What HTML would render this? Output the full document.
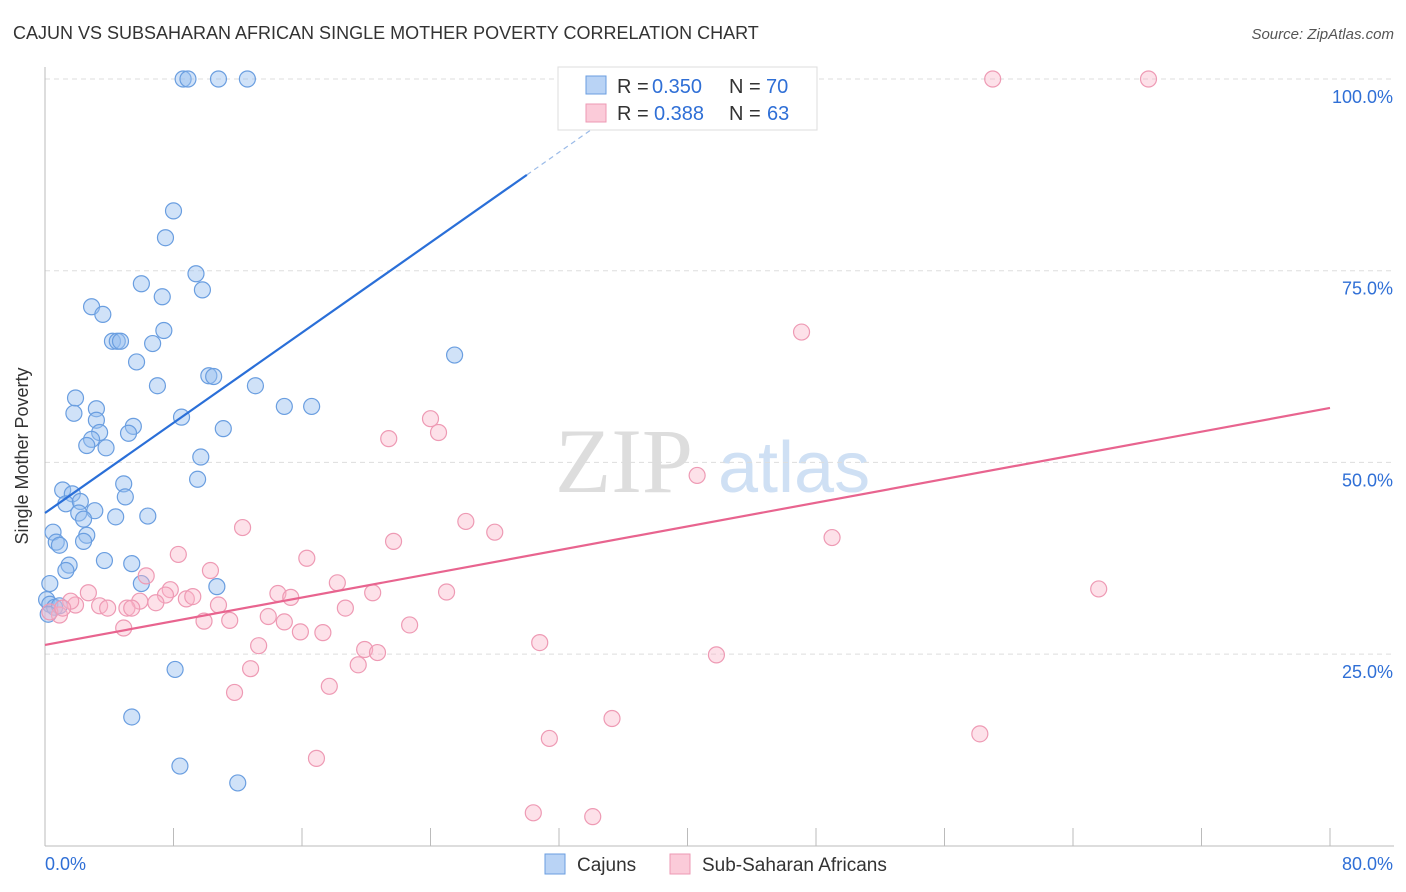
<!DOCTYPE html>
<html><head><meta charset="utf-8"><style>
body{margin:0;background:#fff;font-family:"Liberation Sans",sans-serif;}
svg{display:block}
</style></head><body>
<svg id="chart" width="1406" height="892">
<text x="13" y="39" font-size="18" fill="#333">CAJUN VS SUBSAHARAN AFRICAN SINGLE MOTHER POVERTY CORRELATION CHART</text>
<text x="1394" y="39" font-size="15" fill="#555" font-style="italic" text-anchor="end">Source: ZipAtlas.com</text>
<text x="28" y="456" font-size="18" fill="#333" text-anchor="middle" transform="rotate(-90 28 456)">Single Mother Poverty</text>
<text x="555" y="492" font-size="92" fill="#ddd" font-family="Liberation Serif,serif">ZIP</text>
<text x="718" y="492" font-size="72" fill="#cfe0f4">atlas</text>
<g id="grid"></g><g id="axes"></g><g id="pts"></g><g id="lines"></g>
<g>
<rect x="558" y="67" width="259" height="63" fill="#fff" stroke="#ddd"/>
<rect x="586" y="76" width="20" height="18" fill="#b9d3f5" stroke="#6a9ee0"/>
<rect x="586" y="104" width="20" height="18" fill="#fbcbd9" stroke="#ee9ab4"/>
<text y="93" font-size="20" fill="#333"><tspan x="617">R =</tspan><tspan x="652" fill="#2f6fd6">0.350</tspan><tspan x="729">N =</tspan><tspan x="766" fill="#2f6fd6">70</tspan></text>
<text y="120" font-size="20" fill="#333"><tspan x="617">R =</tspan><tspan x="654" fill="#2f6fd6">0.388</tspan><tspan x="729">N =</tspan><tspan x="767" fill="#2f6fd6">63</tspan></text>
</g>
<g>
<rect x="545" y="854" width="20" height="20" fill="#b9d3f5" stroke="#6a9ee0"/>
<text x="577" y="871" font-size="19" fill="#333">Cajuns</text>
<rect x="670" y="854" width="20" height="20" fill="#fbcbd9" stroke="#ee9ab4"/>
<text x="702" y="871" font-size="19" fill="#333">Sub-Saharan Africans</text>
</g>
</svg>
<script>
const yTicks=[25,50,75,100];
const yTickLabels=["25.0%","50.0%","75.0%","100.0%"];
const xTickVals=[0,8,16,24,32,40,48,56,64,72,80];
const xTickLabels=["0.0%","80.0%"];
const blueX=[8.6,8.9,10.8,12.6,8.0,7.5,9.4,6.0,7.3,9.8,2.9,3.6,7.4,4.2,4.5,4.7,6.7,5.7,25.5,10.2,10.5,7.0,13.1,1.9,3.2,1.8,3.2,8.5,14.9,16.6,11.1,5.5,5.2,3.4,2.9,2.6,3.8,9.7,9.5,1.1,4.9,1.7,5.0,1.3,2.2,2.1,3.1,2.4,4.4,6.4,0.5,0.7,0.9,2.6,2.4,1.5,1.3,3.7,5.4,6.0,0.3,10.7,0.1,0.3,0.6,0.9,0.2,8.1,5.4,8.4,12.0];
const blueY=[100,100,100,100,82.8,79.3,74.6,73.3,71.6,72.5,70.3,69.3,67.2,65.8,65.8,65.8,65.5,63.1,64.0,61.3,61.2,60.0,60.0,58.4,57.0,56.4,55.5,55.9,57.3,57.3,54.4,54.7,53.8,53.9,53.0,52.2,51.9,50.7,47.8,46.4,47.2,45.9,45.5,44.6,44.9,43.4,43.7,42.6,42.9,43.0,40.9,39.6,39.2,40.5,39.7,36.6,35.9,37.2,36.8,34.2,34.2,33.8,32.1,31.5,31.1,31.3,30.2,23.0,16.8,10.4,8.2];
const pinkX=[59.0,68.7,47.1,24.0,24.5,21.4,40.6,12.3,26.2,28.0,21.7,49.0,8.3,16.3,6.3,10.3,65.6,18.2,2.7,7.8,8.8,14.5,7.5,9.2,20.4,25.0,5.9,5.1,3.4,3.9,15.3,18.7,10.8,11.5,9.9,13.9,6.9,5.4,4.9,14.9,15.9,17.3,22.7,13.3,30.8,19.9,20.7,12.8,19.5,41.8,11.8,17.7,35.3,31.4,58.2,16.9,30.4,34.1,0.9,0.3,1.9,1.6,1.1];
const pinkY=[100,100,67.0,55.7,53.9,53.1,48.3,41.5,42.3,40.9,39.7,40.2,38.0,37.5,35.2,35.9,33.5,34.3,33.0,33.4,32.2,32.9,32.7,32.5,33.0,33.1,31.9,31.0,31.3,31.0,32.4,31.0,31.4,29.4,29.3,29.9,31.7,31.0,28.4,29.2,27.9,27.8,28.8,26.1,26.5,25.6,25.2,23.1,23.6,24.9,20.0,20.8,16.6,14.0,14.6,11.4,4.3,3.8,30.1,30.5,31.4,31.9,31.0];
const blueFit=[43.4,0,87.5,30];
const pinkFit=[26.2,0,57.1,80];
const X0=45,X1=1330,Y0=845.8,Y100=79;
const sx=v=>X0+(v/80)*(X1-X0);
const sy=v=>Y0-(v/100)*(Y0-Y100);
const NS="http://www.w3.org/2000/svg";
function mk(tag,attrs,parent){const e=document.createElementNS(NS,tag);for(const k in attrs)e.setAttribute(k,attrs[k]);document.getElementById(parent).appendChild(e);return e;}
yTicks.forEach((t,i)=>{
 const g=mk('line',{x1:45,x2:1394,y1:sy(t),y2:sy(t),stroke:'#ddd','stroke-dasharray':'5,4'},'grid');
 
 
 const l=mk('text',{x:1393,y:sy(t)+24,'font-size':18,fill:'#2f6fd6','text-anchor':'end'},'grid');
 l.textContent=yTickLabels[i];
 
 
});
const ax=mk('line',{x1:45,x2:45,y1:67,y2:846,stroke:'#bbb'},'axes');


const bx=mk('line',{x1:45,x2:1394,y1:846,y2:846,stroke:'#bbb'},'axes');


xTickVals.forEach(t=>{
 const k=mk('line',{x1:sx(t),x2:sx(t),y1:828,y2:846,stroke:'#bbb'},'axes');
 
 
});
const xl0=mk('text',{x:45,y:870,'font-size':18,fill:'#2f6fd6'},'axes');xl0.textContent=xTickLabels[0];


const xl1=mk('text',{x:1393,y:870,'font-size':18,fill:'#2f6fd6','text-anchor':'end'},'axes');xl1.textContent=xTickLabels[1];


blueX.forEach((v,i)=>{
 const c=mk('circle',{cx:sx(v),cy:sy(blueY[i]),r:8,fill:'rgba(150,190,240,0.45)',stroke:'#6a9ee0','stroke-width':1.2},'pts');
 
 
});
pinkX.forEach((v,i)=>{
 const c=mk('circle',{cx:sx(v),cy:sy(pinkY[i]),r:8,fill:'rgba(250,180,200,0.4)',stroke:'#ee9ab4','stroke-width':1.2},'pts');
 
 
});
const bl=mk('line',{x1:sx(0),y1:sy(blueFit[0]),x2:sx(30),y2:sy(blueFit[0]+(blueFit[2]-blueFit[0])/30*30),stroke:'#2a6fd8','stroke-width':2.2},'lines');


const bd=mk('line',{x1:sx(30),y1:sy(blueFit[2]),x2:sx(34.5),y2:sy(blueFit[0]+(blueFit[2]-blueFit[0])/30*34.5),stroke:'#9bbbe8','stroke-width':1.2,'stroke-dasharray':'5,4'},'lines');


const pl=mk('line',{x1:sx(0),y1:sy(pinkFit[0]),x2:sx(80),y2:sy(pinkFit[2]),stroke:'#e8648f','stroke-width':2.2},'lines');


</script>
</body></html>
